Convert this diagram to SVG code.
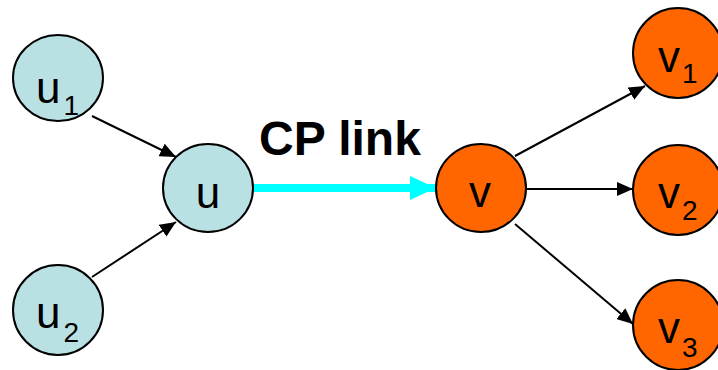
<svg xmlns="http://www.w3.org/2000/svg" width="718" height="370" viewBox="0 0 718 370">
  <style>
    .blue { fill: #B9E0E3; stroke: #000; stroke-width: 2; }
    .orange { fill: #FF6600; stroke: #000; stroke-width: 2; }
    .lbl { font-family: "Liberation Sans", Arial, sans-serif; font-size: 44px; fill: #000; }
    .sub { font-size: 28px; }
    .edge { stroke: #000; stroke-width: 2; fill: none; marker-end: url(#head); }
    .title { font-family: "Liberation Sans", Arial, sans-serif; font-size: 48px; font-weight: bold; fill: #000; }
  </style>
  <defs>
    <marker id="head" markerUnits="userSpaceOnUse" markerWidth="16" markerHeight="14" refX="16" refY="7" orient="auto">
      <path d="M0,0 L16,7 L0,14 Z" fill="#000"/>
    </marker>
    <marker id="cphead" markerUnits="userSpaceOnUse" markerWidth="26" markerHeight="24" refX="26" refY="12" orient="auto">
      <path d="M0,0 L26,12 L0,24 Z" fill="#00FFFF"/>
    </marker>
  </defs>

  <!-- connectors -->
  <g id="edges">
    <line class="edge" x1="92" y1="116" x2="176" y2="157"/>
    <line class="edge" x1="92" y1="277" x2="176" y2="222"/>
    <line x1="254" y1="188" x2="436" y2="188" stroke="#00FFFF" stroke-width="8" marker-end="url(#cphead)"/>
    <line class="edge" x1="515" y1="156" x2="645" y2="86"/>
    <line class="edge" x1="527" y1="189" x2="633" y2="189"/>
    <line class="edge" x1="515" y1="224" x2="633" y2="324"/>
  </g>

  <text class="title" x="259" y="155">CP link</text>

  <g id="u1">
    <ellipse class="blue" cx="58" cy="78" rx="45" ry="43"/>
    <text class="lbl" x="36" y="103">u<tspan class="sub" dx="3" dy="12">1</tspan></text>
  </g>
  <g id="u2">
    <ellipse class="blue" cx="58" cy="310" rx="45" ry="45"/>
    <text class="lbl" x="36" y="328">u<tspan class="sub" dx="3" dy="14">2</tspan></text>
  </g>
  <g id="u">
    <ellipse class="blue" cx="208" cy="188" rx="45" ry="44"/>
    <text class="lbl" x="208" y="208" text-anchor="middle">u</text>
  </g>
  <g id="v">
    <ellipse class="orange" cx="481" cy="188" rx="45" ry="44"/>
    <text class="lbl" x="480" y="207" text-anchor="middle">v</text>
  </g>
  <g id="v1">
    <ellipse class="orange" cx="678" cy="53" rx="45" ry="45"/>
    <text class="lbl" x="658" y="72">v<tspan class="sub" dx="2" dy="11">1</tspan></text>
  </g>
  <g id="v2">
    <ellipse class="orange" cx="678" cy="190" rx="45" ry="45"/>
    <text class="lbl" x="658" y="208">v<tspan class="sub" dx="2" dy="12">2</tspan></text>
  </g>
  <g id="v3">
    <ellipse class="orange" cx="678" cy="325" rx="45" ry="45"/>
    <text class="lbl" x="658" y="343">v<tspan class="sub" dx="2" dy="14">3</tspan></text>
  </g>
</svg>
